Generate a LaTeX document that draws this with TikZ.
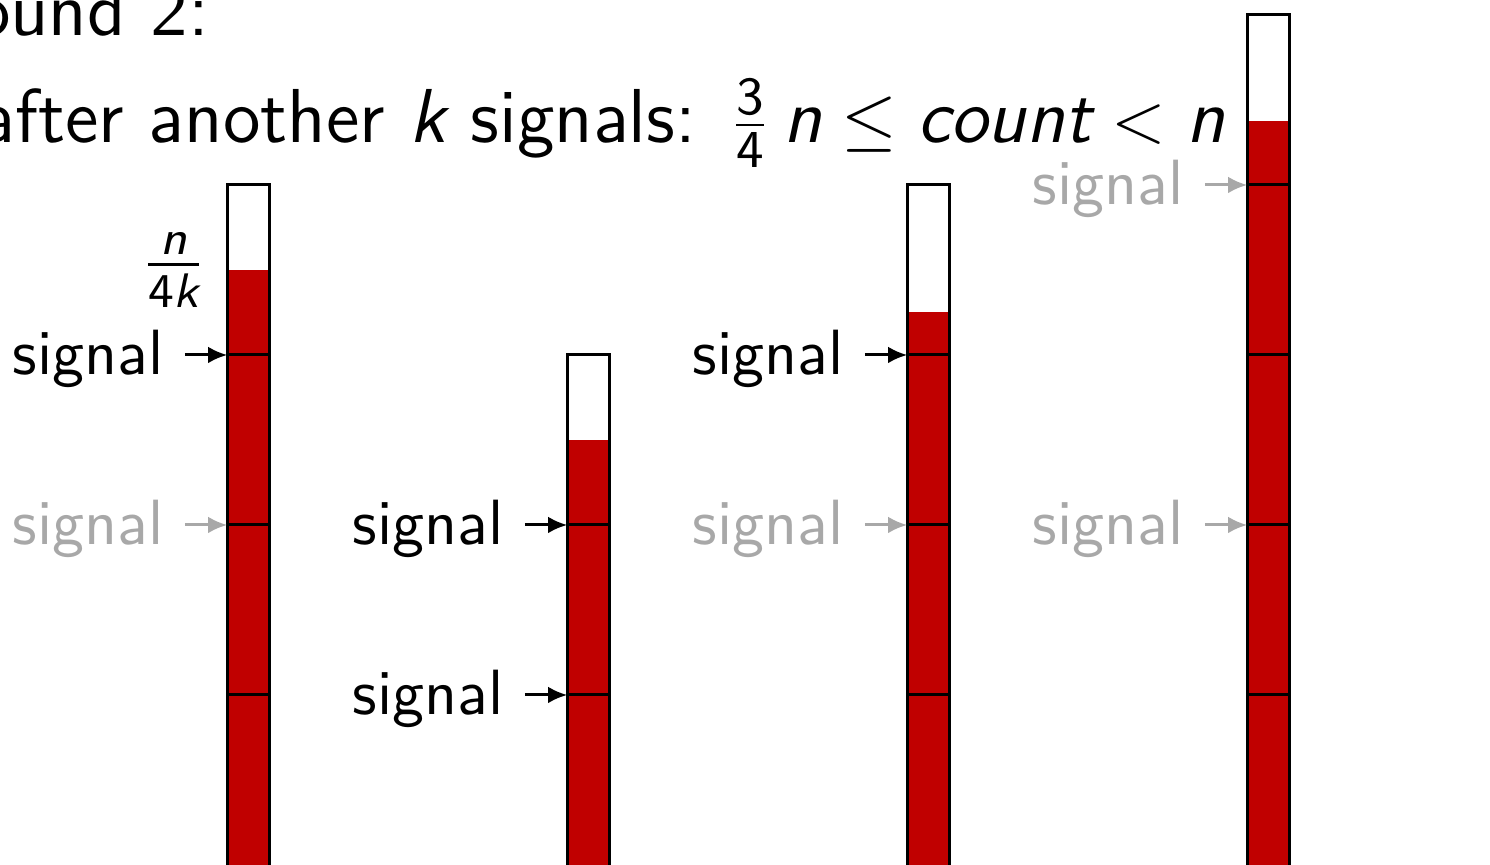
\documentclass[tikz,border=0pt]{standalone}
\usepackage{amsmath}
\usetikzlibrary{arrows.meta}
\definecolor{barred}{RGB}{192,0,0}
\definecolor{siggray}{RGB}{168,168,168}
\newcommand{\sv}[1]{\text{\sffamily\slshape #1}}
\newcommand{\sd}[1]{\text{\sffamily\upshape #1}}
\tikzset{
  barline/.style={draw=black, line width=0.5pt},
  barfill/.style={fill=barred},
  lab/.style={font=\fontsize{10.7}{12}\selectfont\sffamily, anchor=east, yshift=-0.6pt},
  fraclab/.style={font=\fontsize{11.6}{13}\selectfont\sffamily, anchor=east},
  graylab/.style={lab, text=siggray},
  sig/.style={-{Latex[length=3.2pt,width=2.8pt]}, line width=0.5pt},
  graysig/.style={sig, draw=siggray, fill=siggray},
  title/.style={font=\fontsize{12.8}{15}\selectfont\sffamily, anchor=base east, inner sep=0pt}
}
\begin{document}
\begin{tikzpicture}
\useasboundingbox (-1.4618,-2.0) rectangle (7.3029,3.0882);
\clip (-1.4618,-2.0) rectangle (7.3029,3.0882);

% title
\node[title] (t1) at (-0.226,2.882) {Round 2:};
\node[title] (t2) at (5.748,2.247) {after another $\sv{k}$ signals: $\frac{\sd{3}}{\sd{4}}\,\sv{n} \le \sv{count} < \sv{n}$};

% bar 1
\fill[barfill] (-0.125,-3) rectangle (0.125,1.5);
\draw[barline] (-0.125,-3) rectangle (0.125,2);
\foreach \y in {1,0,-1} \draw[barline] (-0.125,\y) -- (0.125,\y);
\coordinate (b1a) at (-0.125,1);
\coordinate (b1b) at (-0.125,0);
\node[fraclab] (f1) at (-0.125,1.5) {$\frac{\sv{n}}{\sd{4}\sv{k}}$};
\node[lab] (s1a) at (-0.375,1) {signal};
\node[graylab] (s1b) at (-0.375,0) {signal};
\draw[sig] (s1a.east |- b1a) -- (b1a);
\draw[graysig] (s1b.east |- b1b) -- (b1b);

% bar 2
\fill[barfill] (1.875,-3) rectangle (2.125,0.5);
\draw[barline] (1.875,-3) rectangle (2.125,1);
\foreach \y in {0,-1} \draw[barline] (1.875,\y) -- (2.125,\y);
\coordinate (b2a) at (1.875,0);
\coordinate (b2b) at (1.875,-1);
\node[lab] (s2a) at (1.625,0) {signal};
\node[lab] (s2b) at (1.625,-1) {signal};
\draw[sig] (s2a.east |- b2a) -- (b2a);
\draw[sig] (s2b.east |- b2b) -- (b2b);

% bar 3
\fill[barfill] (3.875,-3) rectangle (4.125,1.25);
\draw[barline] (3.875,-3) rectangle (4.125,2);
\foreach \y in {1,0,-1} \draw[barline] (3.875,\y) -- (4.125,\y);
\coordinate (b3a) at (3.875,1);
\coordinate (b3b) at (3.875,0);
\node[lab] (s3a) at (3.625,1) {signal};
\node[graylab] (s3b) at (3.625,0) {signal};
\draw[sig] (s3a.east |- b3a) -- (b3a);
\draw[graysig] (s3b.east |- b3b) -- (b3b);

% bar 4
\fill[barfill] (5.875,-3) rectangle (6.125,2.375);
\draw[barline] (5.875,-3) rectangle (6.125,3);
\foreach \y in {2,1,0,-1} \draw[barline] (5.875,\y) -- (6.125,\y);
\coordinate (b4a) at (5.875,2);
\coordinate (b4b) at (5.875,0);
\node[graylab] (s4a) at (5.625,2) {signal};
\node[graylab] (s4b) at (5.625,0) {signal};
\draw[graysig] (s4a.east |- b4a) -- (b4a);
\draw[graysig] (s4b.east |- b4b) -- (b4b);
\end{tikzpicture}
\end{document}
